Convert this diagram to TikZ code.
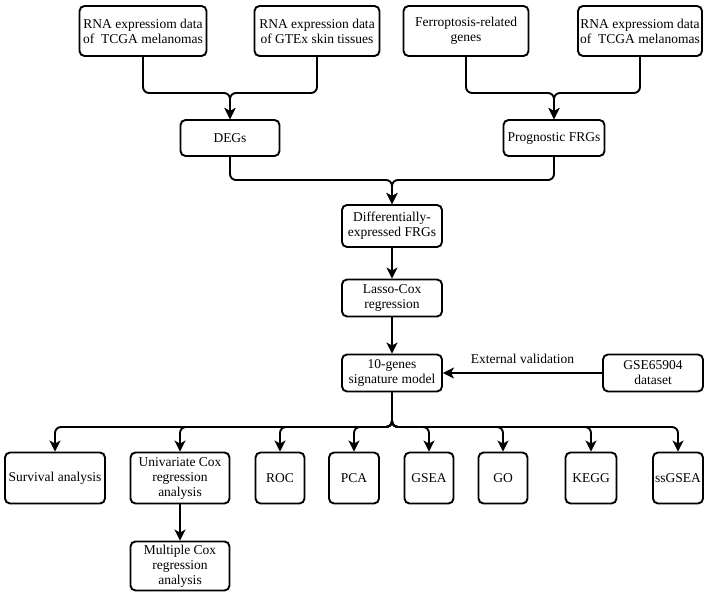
\documentclass[tikz,border=0pt]{standalone}
\usepackage{fontspec}
\setmainfont{Liberation Serif}
\usetikzlibrary{arrows.meta}
\tikzset{
	box/.style={draw, line width=1.9pt, rounded corners=5pt, align=center, inner sep=2pt, font=\fontsize{13.5}{15}\selectfont},
	link/.style={line width=1.9pt, rounded corners=6pt, -{Stealth[length=11pt,width=11pt,inset=3pt]}}
}
\begin{document}
\begin{tikzpicture}[x=1pt,y=-1pt]
		\useasboundingbox (0,0) rectangle (709,596);
		\node [box, minimum width=127pt, minimum height=50pt] (tcgaA) at (143,31) {RNA expressiom data\\of~ TCGA melanomas};
		\node [box, minimum width=125pt, minimum height=50pt] (gtex) at (317,31) {RNA expression data\\of GTEx skin tissues};
		\node [box, minimum width=125pt, minimum height=50pt] (ferro) at (466,31) {Ferroptosis-related\\genes};
		\node [box, minimum width=124pt, minimum height=50pt] (tcgaB) at (640,31) {RNA expressiom data\\of~ TCGA melanomas};
		\node [box, minimum width=99pt, minimum height=36pt] (degs) at (230,138) {DEGs};
		\node [box, minimum width=101pt, minimum height=36pt] (progn) at (554,138) {Prognostic FRGs};
		\node [box, minimum width=100pt, minimum height=42pt] (diff) at (392,226) {Differentially-\\expressed FRGs};
		\node [box, minimum width=100pt, minimum height=37pt] (lasso) at (392,298) {Lasso-Cox\\regression};
		\node [box, minimum width=100pt, minimum height=37pt] (model) at (392,373) {10-genes\\signature model};
		\node [box, minimum width=100pt, minimum height=37pt] (gse) at (653,373) {GSE65904\\dataset};
		\node [box, minimum width=100pt, minimum height=51pt] (surv) at (55,478) {Survival analysis};
		\node [box, minimum width=99pt, minimum height=51pt] (univ) at (180,478) {Univariate Cox\\regression\\analysis};
		\node [box, minimum width=49pt, minimum height=51pt] (roc) at (280,478) {ROC};
		\node [box, minimum width=50pt, minimum height=51pt] (pca) at (354,478) {PCA};
		\node [box, minimum width=49pt, minimum height=51pt] (gsea) at (429,478) {GSEA};
		\node [box, minimum width=49pt, minimum height=51pt] (go) at (503,478) {GO};
		\node [box, minimum width=51pt, minimum height=51pt] (kegg) at (591,478) {KEGG};
		\node [box, minimum width=50pt, minimum height=51pt] (ssgsea) at (678,478) {ssGSEA};
		\node [box, minimum width=99pt, minimum height=49pt] (multi) at (180,566) {Multiple Cox\\regression\\analysis};
		\coordinate (m1) at (230,93);
		\coordinate (m2) at (554,93);
		\coordinate (m3) at (392,180);
		\coordinate (hub) at (392,427);
		\draw [link] (tcgaA.south) |- (m1) -- (degs.north);
		\draw [link] (gtex.south) |- (m1) -- (degs.north);
		\draw [link] (ferro.south) |- (m2) -- (progn.north);
		\draw [link] (tcgaB.south) |- (m2) -- (progn.north);
		\draw [link] (degs.south) |- (m3) -- (diff.north);
		\draw [link] (progn.south) |- (m3) -- (diff.north);
		\draw [link] (diff) -- (lasso);
		\draw [link] (lasso) -- (model);
		\draw [link] (gse) -- node [above=5pt, font=\fontsize{13.5}{15}\selectfont] {External validation} (model);
		\foreach \b in {surv,univ,roc,pca,gsea,go,kegg,ssgsea}
			\draw [link] (model.south) -- (hub) -| (\b.north);
		\draw [link] (univ) -- (multi);
	\end{tikzpicture}
\end{document}
